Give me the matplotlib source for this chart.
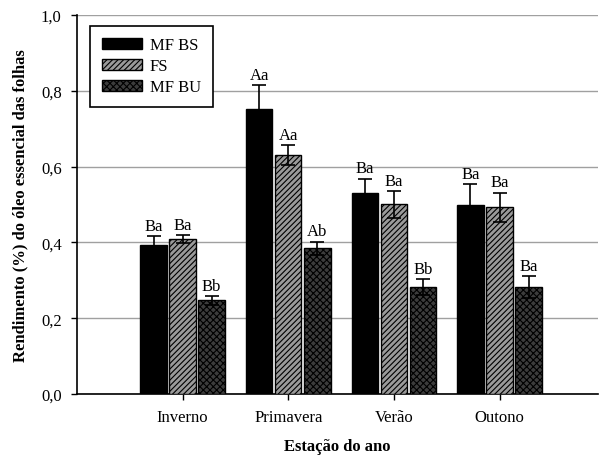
import matplotlib
matplotlib.use("Agg")
import matplotlib.pyplot as plt
import numpy as np

plt.rcParams['font.family'] = ['Liberation Serif', 'DejaVu Serif']
plt.rcParams['hatch.linewidth'] = 0.8

seasons = ["Inverno", "Primavera", "Verão", "Outono"]
series = ["MF BS", "FS", "MF BU"]
mfbs = [0.394, 0.753, 0.529, 0.498]
fs = [0.409, 0.631, 0.500, 0.493]
mfbu = [0.247, 0.385, 0.282, 0.282]
mfbs_err = [0.022, 0.061, 0.039, 0.055]
fs_err = [0.010, 0.026, 0.036, 0.038]
mfbu_err = [0.012, 0.017, 0.021, 0.028]
mfbs_lab = ["Ba", "Aa", "Ba", "Ba"]
fs_lab = ["Ba", "Aa", "Ba", "Ba"]
mfbu_lab = ["Bb", "Ab", "Bb", "Ba"]
yticks = [0.0, 0.2, 0.4, 0.6, 0.8, 1.0]
ytick_labels = ["0,0", "0,2", "0,4", "0,6", "0,8", "1,0"]

fig = plt.figure(figsize=(5.99, 4.56), dpi=100)
ax = fig.add_axes([0.1285, 0.1338, 0.8695, 0.8312])

x = np.arange(len(seasons))
w = 0.25
off = 0.275
styles = [
    dict(facecolor="black", edgecolor="black", hatch=None),
    dict(facecolor="#9a9a9a", edgecolor="black", hatch="//////"),
    dict(facecolor="#3c3c3c", edgecolor="black", hatch="xxxxx"),
]
vals = [mfbs, fs, mfbu]
errs = [mfbs_err, fs_err, mfbu_err]
labs = [mfbs_lab, fs_lab, mfbu_lab]
handles = []
for i, (v, e, lb, st) in enumerate(zip(vals, errs, labs, styles)):
    pos = x + (i - 1) * off
    bars = ax.bar(pos, v, w, yerr=e, label=series[i], linewidth=1.0,
                  error_kw=dict(ecolor="black", elinewidth=1.2, capsize=5, capthick=1.2),
                  zorder=3, **st)
    handles.append(bars)
    for p, val, er, t in zip(pos, v, e, lb):
        ax.text(p, val + er + 0.006, t, ha="center", va="bottom", fontsize=12, zorder=4)

ax.set_xlim(-1.0, 3.93)
ax.set_ylim(0, 1.0)
ax.set_yticks(yticks)
ax.set_yticklabels(ytick_labels, fontsize=12)
ax.set_xticks(x)
ax.set_xticklabels(seasons, fontsize=12)
ax.tick_params(axis="both", direction="out", length=4, width=1, pad=7)
ax.yaxis.grid(True, color="#a0a0a0", linewidth=1.0, zorder=0)
ax.set_axisbelow(True)
for s in ["top", "right"]:
    ax.spines[s].set_visible(False)
ax.spines["left"].set_linewidth(1.2)
ax.spines["bottom"].set_linewidth(1.2)

ax.set_ylabel("Rendimento (%) do óleo essencial das folhas", fontsize=12, fontweight="bold", labelpad=9)
ax.set_xlabel("Estação do ano", fontsize=12, fontweight="bold", labelpad=9)

leg = ax.legend(handles=handles, labels=series, loc="upper left",
                bbox_to_anchor=(0.025, 0.972), fontsize=12, frameon=True,
                fancybox=False, shadow=False, edgecolor="black", framealpha=1,
                handlelength=2.4, handleheight=0.7, borderpad=0.7, labelspacing=0.3,
                handletextpad=0.5, borderaxespad=0)
leg.get_frame().set_linewidth(1.2)

fig.savefig("out.png", dpi=100)
